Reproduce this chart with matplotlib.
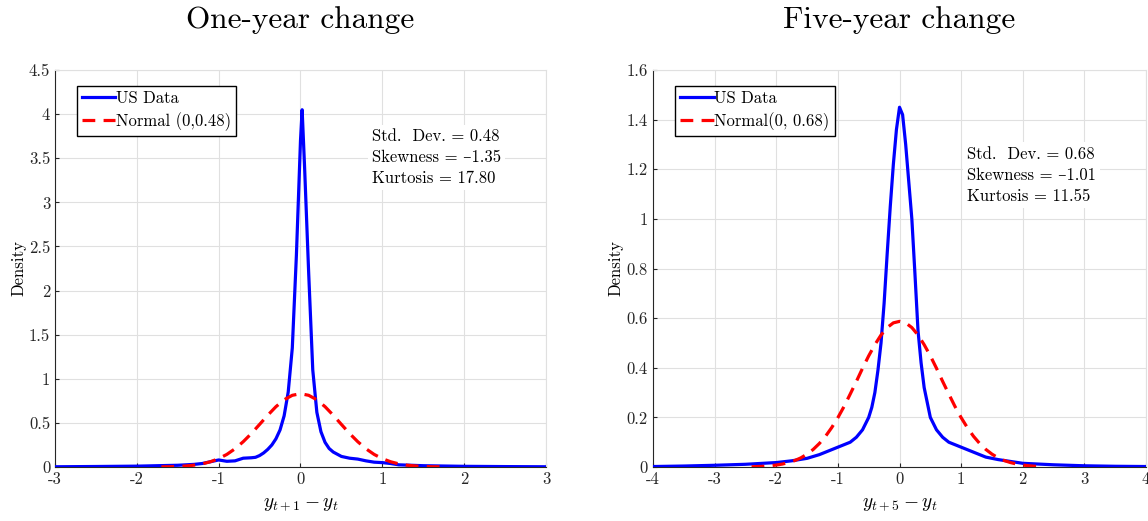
import numpy as np
import matplotlib
matplotlib.use("Agg")
import matplotlib.pyplot as plt

plt.rcParams['font.family'] = ['cmr10', 'DejaVu Serif']
plt.rcParams['mathtext.fontset'] = 'cm'
plt.rcParams['axes.unicode_minus'] = False

# one-year change: kernel density of US data
x1_us = [-3.0, -2.5, -2.0, -1.5, -1.3, -1.2, -1.1, -1.0, -0.9, -0.8, -0.75, -0.7,
         -0.6, -0.55, -0.5, -0.45, -0.4, -0.35, -0.3, -0.25, -0.2, -0.15, -0.1,
         -0.05, 0.0, 0.02, 0.05, 0.1, 0.15, 0.2, 0.25, 0.3, 0.35, 0.4, 0.5, 0.6,
         0.7, 0.8, 0.9, 1.0, 1.1, 1.2, 1.5, 2.0, 2.5, 3.0]
y1_us = [0.003, 0.006, 0.01, 0.02, 0.03, 0.04, 0.06, 0.08, 0.065, 0.07, 0.085, 0.1,
         0.105, 0.11, 0.13, 0.16, 0.2, 0.25, 0.32, 0.42, 0.58, 0.85, 1.35,
         2.4, 3.7, 4.05, 3.4, 2.2, 1.1, 0.62, 0.4, 0.28, 0.21, 0.17, 0.12, 0.1,
         0.09, 0.07, 0.055, 0.05, 0.04, 0.025, 0.015, 0.008, 0.005, 0.003]

x1_norm = [-1.7, -1.6, -1.5, -1.4, -1.3, -1.2, -1.1, -1.0, -0.9, -0.8, -0.7, -0.6,
           -0.5, -0.4, -0.3, -0.2, -0.1, 0.0, 0.1, 0.2, 0.3, 0.4, 0.5, 0.6, 0.7,
           0.8, 0.9, 1.0, 1.1, 1.2, 1.3, 1.4, 1.5, 1.6, 1.7]
y1_norm = [0.002, 0.003, 0.006, 0.012, 0.021, 0.036, 0.06, 0.095, 0.143, 0.207,
           0.287, 0.38, 0.483, 0.587, 0.684, 0.762, 0.813, 0.831, 0.813, 0.762,
           0.684, 0.587, 0.483, 0.38, 0.287, 0.207, 0.143, 0.095, 0.06, 0.036,
           0.021, 0.012, 0.006, 0.003, 0.002]

# five-year change
x5_us = [-4.0, -3.5, -3.0, -2.5, -2.0, -1.75, -1.5, -1.3, -1.15, -1.0, -0.9, -0.8,
         -0.7, -0.6, -0.5, -0.45, -0.4, -0.35, -0.3, -0.25, -0.2, -0.15, -0.1,
         -0.05, 0.0, 0.05, 0.1, 0.15, 0.2, 0.25, 0.3, 0.35, 0.4, 0.5, 0.6, 0.7,
         0.8, 0.9, 1.0, 1.2, 1.4, 1.6, 2.0, 2.5, 3.0, 3.5, 4.0]
y5_us = [0.002, 0.004, 0.007, 0.011, 0.018, 0.025, 0.035, 0.05, 0.065, 0.08, 0.09,
         0.1, 0.12, 0.15, 0.2, 0.24, 0.3, 0.39, 0.5, 0.66, 0.86, 1.05, 1.22,
         1.36, 1.45, 1.42, 1.3, 1.15, 1.0, 0.78, 0.55, 0.42, 0.32, 0.2, 0.15, 0.12,
         0.1, 0.09, 0.08, 0.06, 0.04, 0.03, 0.015, 0.009, 0.005, 0.003, 0.002]

x5_norm = [-2.4, -2.3, -2.2, -2.1, -2.0, -1.9, -1.8, -1.7, -1.6, -1.5, -1.4, -1.3,
           -1.2, -1.1, -1.0, -0.9, -0.8, -0.7, -0.6, -0.5, -0.4, -0.3, -0.2, -0.1,
           0.0, 0.1, 0.2, 0.3, 0.4, 0.5, 0.6, 0.7, 0.8, 0.9, 1.0, 1.1, 1.2, 1.3,
           1.4, 1.5, 1.6, 1.7, 1.8, 1.9, 2.0, 2.1, 2.2, 2.3]
y5_norm = [0.001, 0.002, 0.003, 0.005, 0.008, 0.012, 0.018, 0.026, 0.037, 0.052,
           0.071, 0.095, 0.124, 0.159, 0.199, 0.244, 0.294, 0.345, 0.398, 0.448,
           0.493, 0.532, 0.562, 0.581, 0.587, 0.581, 0.562, 0.532, 0.493, 0.448,
           0.398, 0.345, 0.294, 0.244, 0.199, 0.159, 0.124, 0.095, 0.071, 0.052,
           0.037, 0.026, 0.018, 0.012, 0.008, 0.005, 0.003, 0.002]

panels = [
    dict(title="One-year change", x_us=x1_us, y_us=y1_us, x_n=x1_norm, y_n=y1_norm,
         xlim=(-3, 3), ylim=(0, 4.5), xticks=np.arange(-3, 4), yticks=np.arange(0, 4.6, 0.5),
         ytl=["0", "0.5", "1", "1.5", "2", "2.5", "3", "3.5", "4", "4.5"],
         xlabel=r"$y_{t+1} - y_t$", norm_label="Normal (0,0.48)",
         stats="Std.  Dev. = 0.48\nSkewness = –1.35\nKurtosis = 17.80",
         stats_pos=(0.646, 0.852), pos=[0.0479, 0.1036, 0.4277, 0.762]),
    dict(title="Five-year change", x_us=x5_us, y_us=y5_us, x_n=x5_norm, y_n=y5_norm,
         xlim=(-4, 4), ylim=(0, 1.6), xticks=np.arange(-4, 5), yticks=np.arange(0, 1.61, 0.2),
         ytl=["0", "0.2", "0.4", "0.6", "0.8", "1", "1.2", "1.4", "1.6"],
         xlabel=r"$y_{t+5} - y_t$", norm_label="Normal(0, 0.68)",
         stats="Std.  Dev. = 0.68\nSkewness = –1.01\nKurtosis = 11.55",
         stats_pos=(0.637, 0.807), pos=[0.5688, 0.1036, 0.4295, 0.762]),
]

fig = plt.figure(figsize=(11.48, 5.21), dpi=100)

for p in panels:
    ax = fig.add_axes(p["pos"])
    ax.plot(p["x_us"], p["y_us"], color="#0000ff", lw=2.3, label="US Data", zorder=3)
    ax.plot(p["x_n"], p["y_n"], color="#ff0000", lw=2.3, ls=(0, (4, 2.6)),
            label=p["norm_label"], zorder=4)
    ax.set_xlim(*p["xlim"])
    ax.set_ylim(*p["ylim"])
    ax.set_xticks(p["xticks"])
    ax.set_xticklabels([str(int(t)) for t in p["xticks"]])
    ax.set_yticks(p["yticks"])
    ax.set_yticklabels(p["ytl"])
    ax.tick_params(direction="in", length=3, labelsize=12, colors="#262626",
                   top=False, right=False)
    ax.grid(True, color="#e0e0e0", lw=0.8)
    ax.set_axisbelow(True)
    for s in ["top", "right"]:
        ax.spines[s].set_color("#e0e0e0")
    for s in ["left", "bottom"]:
        ax.spines[s].set_color("#262626")
        ax.spines[s].set_linewidth(0.8)
    ax.set_title(p["title"], fontsize=22.5, pad=30)
    ax.set_xlabel(p["xlabel"], fontsize=14, labelpad=6)
    ax.set_ylabel("Density", fontsize=12, labelpad=2)
    leg = ax.legend(loc="upper left", bbox_to_anchor=(0.045, 0.96), borderaxespad=0,
                    fontsize=12, handlelength=2.0, handletextpad=0.05, borderpad=0.3,
                    labelspacing=0.35, fancybox=False, framealpha=1, edgecolor="black")
    leg.get_frame().set_linewidth(1.0)
    ax.text(p["stats_pos"][0], p["stats_pos"][1], p["stats"], transform=ax.transAxes,
            fontsize=12, va="top", ha="left", linespacing=1.45,
            bbox=dict(facecolor="white", edgecolor="none", pad=3), zorder=5)

fig.savefig("out.png", dpi=100)
